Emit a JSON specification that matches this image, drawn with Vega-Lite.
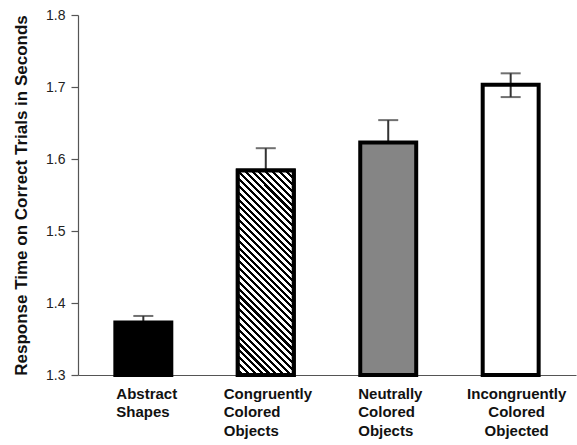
{
  "$schema": "https://vega.github.io/schema/vega-lite/v6.json",
  "autosize": "none",
  "width": 498,
  "height": 360,
  "padding": {"left": 78, "top": 15, "right": 1, "bottom": 70},
  "background": "white",
  "config": {"view": {"stroke": null}, "font": "Liberation Sans"},
  "data": {
    "values": [
      {"cond": "Abstract Shapes", "mean": 1.373, "lo": 1.364, "hi": 1.382},
      {"cond": "Congruently Colored Objects", "mean": 1.584, "lo": 1.553, "hi": 1.615},
      {"cond": "Neutrally Colored Objects", "mean": 1.623, "lo": 1.592, "hi": 1.654},
      {"cond": "Incongruently Colored Objected", "mean": 1.703, "lo": 1.686, "hi": 1.719}
    ]
  },
  "encoding": {
    "x": {
      "field": "cond",
      "type": "nominal",
      "sort": null,
      "scale": {"paddingInner": 0.543, "paddingOuter": 0.305},
      "axis": {
        "title": null,
        "ticks": false,
        "domainColor": "#555",
        "domainWidth": 1.2,
        "labelAngle": 0,
        "labelExpr": "split(datum.label, ' ')",
        "labelFont": "Liberation Sans",
        "labelFontSize": 15,
        "labelFontWeight": "bold",
        "labelColor": "#111",
        "labelLineHeight": 18.5,
        "labelPadding": 11,
        "labelBaseline": "top",
        "labelAlign": {"condition": {"test": "datum.value === 'Incongruently Colored Objected'", "value": "center"}, "value": "left"},
        "labelOffset": {"condition": [
          {"test": "datum.value === 'Abstract Shapes'", "value": -27},
          {"test": "datum.value === 'Congruently Colored Objects'", "value": -42},
          {"test": "datum.value === 'Neutrally Colored Objects'", "value": -30}
        ], "value": 6}
      }
    }
  },
  "layer": [
    {
      "mark": {"type": "rule", "color": "#333", "strokeWidth": 2},
      "encoding": {
        "y": {"field": "lo", "type": "quantitative"},
        "y2": {"field": "hi"}
      }
    },
    {
      "mark": {"type": "tick", "color": "#333", "size": 20, "thickness": 2, "orient": "horizontal"},
      "encoding": {"y": {"field": "hi", "type": "quantitative"}}
    },
    {
      "mark": {"type": "tick", "color": "#333", "size": 20, "thickness": 2, "orient": "horizontal"},
      "encoding": {"y": {"field": "lo", "type": "quantitative"}}
    },
    {
      "mark": {"type": "bar", "stroke": "black", "strokeWidth": 4},
      "encoding": {
        "y": {
          "field": "mean",
          "type": "quantitative",
          "scale": {"domain": [1.3, 1.8], "zero": false, "nice": false},
          "axis": {
            "title": "Response Time on Correct Trials in Seconds",
            "titleFont": "Liberation Sans",
            "titleFontSize": 17,
            "titleFontWeight": "bold",
            "titleColor": "#111",
            "titlePadding": 15,
            "values": [1.3, 1.4, 1.5, 1.6, 1.7, 1.8],
            "format": ".1f",
            "grid": false,
            "domainColor": "#555",
            "domainWidth": 1.2,
            "tickColor": "#555",
            "tickSize": 7,
            "tickWidth": 1.2,
            "labelFont": "Liberation Sans",
            "labelFontSize": 14,
            "labelColor": "#222",
            "labelPadding": 6
          }
        },
        "y2": {"datum": 1.3},
        "fill": {
          "field": "cond",
          "type": "nominal",
          "scale": {
            "domain": ["Abstract Shapes", "Congruently Colored Objects", "Neutrally Colored Objects", "Incongruently Colored Objected"],
            "range": ["#000000", "#ffffff", "#858585", "transparent"]
          },
          "legend": null
        }
      }
    },
    {
      "transform": [{"filter": {"field": "cond", "equal": "Congruently Colored Objects"}}],
      "mark": {
        "type": "bar",
        "stroke": "black",
        "strokeWidth": 4,
        "fill": {
          "gradient": "linear",
          "x1": 0, "y1": 1, "x2": 0.3244, "y2": -0.1847,
          "stops": [
            {"offset": 0, "color": "#fff"}, {"offset": 0.0145, "color": "#fff"}, {"offset": 0.0145, "color": "#000"}, {"offset": 0.0263, "color": "#000"},
            {"offset": 0.0263, "color": "#fff"}, {"offset": 0.0408, "color": "#fff"}, {"offset": 0.0408, "color": "#000"}, {"offset": 0.0526, "color": "#000"},
            {"offset": 0.0526, "color": "#fff"}, {"offset": 0.0671, "color": "#fff"}, {"offset": 0.0671, "color": "#000"}, {"offset": 0.0789, "color": "#000"},
            {"offset": 0.0789, "color": "#fff"}, {"offset": 0.0934, "color": "#fff"}, {"offset": 0.0934, "color": "#000"}, {"offset": 0.1053, "color": "#000"},
            {"offset": 0.1053, "color": "#fff"}, {"offset": 0.1197, "color": "#fff"}, {"offset": 0.1197, "color": "#000"}, {"offset": 0.1316, "color": "#000"},
            {"offset": 0.1316, "color": "#fff"}, {"offset": 0.1461, "color": "#fff"}, {"offset": 0.1461, "color": "#000"}, {"offset": 0.1579, "color": "#000"},
            {"offset": 0.1579, "color": "#fff"}, {"offset": 0.1724, "color": "#fff"}, {"offset": 0.1724, "color": "#000"}, {"offset": 0.1842, "color": "#000"},
            {"offset": 0.1842, "color": "#fff"}, {"offset": 0.1987, "color": "#fff"}, {"offset": 0.1987, "color": "#000"}, {"offset": 0.2105, "color": "#000"},
            {"offset": 0.2105, "color": "#fff"}, {"offset": 0.225, "color": "#fff"}, {"offset": 0.225, "color": "#000"}, {"offset": 0.2368, "color": "#000"},
            {"offset": 0.2368, "color": "#fff"}, {"offset": 0.2513, "color": "#fff"}, {"offset": 0.2513, "color": "#000"}, {"offset": 0.2632, "color": "#000"},
            {"offset": 0.2632, "color": "#fff"}, {"offset": 0.2776, "color": "#fff"}, {"offset": 0.2776, "color": "#000"}, {"offset": 0.2895, "color": "#000"},
            {"offset": 0.2895, "color": "#fff"}, {"offset": 0.3039, "color": "#fff"}, {"offset": 0.3039, "color": "#000"}, {"offset": 0.3158, "color": "#000"},
            {"offset": 0.3158, "color": "#fff"}, {"offset": 0.3303, "color": "#fff"}, {"offset": 0.3303, "color": "#000"}, {"offset": 0.3421, "color": "#000"},
            {"offset": 0.3421, "color": "#fff"}, {"offset": 0.3566, "color": "#fff"}, {"offset": 0.3566, "color": "#000"}, {"offset": 0.3684, "color": "#000"},
            {"offset": 0.3684, "color": "#fff"}, {"offset": 0.3829, "color": "#fff"}, {"offset": 0.3829, "color": "#000"}, {"offset": 0.3947, "color": "#000"},
            {"offset": 0.3947, "color": "#fff"}, {"offset": 0.4092, "color": "#fff"}, {"offset": 0.4092, "color": "#000"}, {"offset": 0.4211, "color": "#000"},
            {"offset": 0.4211, "color": "#fff"}, {"offset": 0.4355, "color": "#fff"}, {"offset": 0.4355, "color": "#000"}, {"offset": 0.4474, "color": "#000"},
            {"offset": 0.4474, "color": "#fff"}, {"offset": 0.4618, "color": "#fff"}, {"offset": 0.4618, "color": "#000"}, {"offset": 0.4737, "color": "#000"},
            {"offset": 0.4737, "color": "#fff"}, {"offset": 0.4882, "color": "#fff"}, {"offset": 0.4882, "color": "#000"}, {"offset": 0.5, "color": "#000"},
            {"offset": 0.5, "color": "#fff"}, {"offset": 0.5145, "color": "#fff"}, {"offset": 0.5145, "color": "#000"}, {"offset": 0.5263, "color": "#000"},
            {"offset": 0.5263, "color": "#fff"}, {"offset": 0.5408, "color": "#fff"}, {"offset": 0.5408, "color": "#000"}, {"offset": 0.5526, "color": "#000"},
            {"offset": 0.5526, "color": "#fff"}, {"offset": 0.5671, "color": "#fff"}, {"offset": 0.5671, "color": "#000"}, {"offset": 0.5789, "color": "#000"},
            {"offset": 0.5789, "color": "#fff"}, {"offset": 0.5934, "color": "#fff"}, {"offset": 0.5934, "color": "#000"}, {"offset": 0.6053, "color": "#000"},
            {"offset": 0.6053, "color": "#fff"}, {"offset": 0.6197, "color": "#fff"}, {"offset": 0.6197, "color": "#000"}, {"offset": 0.6316, "color": "#000"},
            {"offset": 0.6316, "color": "#fff"}, {"offset": 0.6461, "color": "#fff"}, {"offset": 0.6461, "color": "#000"}, {"offset": 0.6579, "color": "#000"},
            {"offset": 0.6579, "color": "#fff"}, {"offset": 0.6724, "color": "#fff"}, {"offset": 0.6724, "color": "#000"}, {"offset": 0.6842, "color": "#000"},
            {"offset": 0.6842, "color": "#fff"}, {"offset": 0.6987, "color": "#fff"}, {"offset": 0.6987, "color": "#000"}, {"offset": 0.7105, "color": "#000"},
            {"offset": 0.7105, "color": "#fff"}, {"offset": 0.725, "color": "#fff"}, {"offset": 0.725, "color": "#000"}, {"offset": 0.7368, "color": "#000"},
            {"offset": 0.7368, "color": "#fff"}, {"offset": 0.7513, "color": "#fff"}, {"offset": 0.7513, "color": "#000"}, {"offset": 0.7632, "color": "#000"},
            {"offset": 0.7632, "color": "#fff"}, {"offset": 0.7776, "color": "#fff"}, {"offset": 0.7776, "color": "#000"}, {"offset": 0.7895, "color": "#000"},
            {"offset": 0.7895, "color": "#fff"}, {"offset": 0.8039, "color": "#fff"}, {"offset": 0.8039, "color": "#000"}, {"offset": 0.8158, "color": "#000"},
            {"offset": 0.8158, "color": "#fff"}, {"offset": 0.8303, "color": "#fff"}, {"offset": 0.8303, "color": "#000"}, {"offset": 0.8421, "color": "#000"},
            {"offset": 0.8421, "color": "#fff"}, {"offset": 0.8566, "color": "#fff"}, {"offset": 0.8566, "color": "#000"}, {"offset": 0.8684, "color": "#000"},
            {"offset": 0.8684, "color": "#fff"}, {"offset": 0.8829, "color": "#fff"}, {"offset": 0.8829, "color": "#000"}, {"offset": 0.8947, "color": "#000"},
            {"offset": 0.8947, "color": "#fff"}, {"offset": 0.9092, "color": "#fff"}, {"offset": 0.9092, "color": "#000"}, {"offset": 0.9211, "color": "#000"},
            {"offset": 0.9211, "color": "#fff"}, {"offset": 0.9355, "color": "#fff"}, {"offset": 0.9355, "color": "#000"}, {"offset": 0.9474, "color": "#000"},
            {"offset": 0.9474, "color": "#fff"}, {"offset": 0.9618, "color": "#fff"}, {"offset": 0.9618, "color": "#000"}, {"offset": 0.9737, "color": "#000"},
            {"offset": 0.9737, "color": "#fff"}, {"offset": 0.9882, "color": "#fff"}, {"offset": 0.9882, "color": "#000"}, {"offset": 1, "color": "#000"}
          ]
        }
      },
      "encoding": {
        "y": {"field": "mean", "type": "quantitative"},
        "y2": {"datum": 1.3}
      }
    }
  ]
}
